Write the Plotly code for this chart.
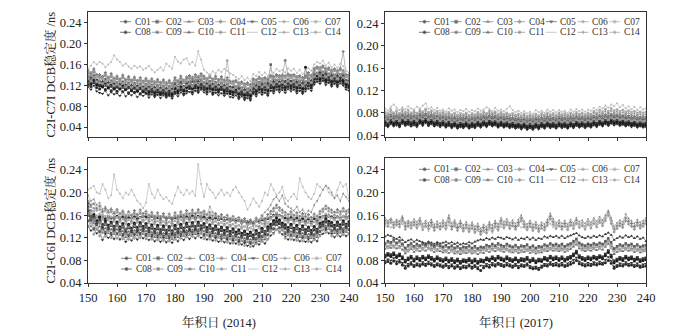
import plotly.graph_objects as go

days = list(range(150, 241))
sats = ["C01", "C02", "C03", "C04", "C05", "C06", "C07", "C08", "C09", "C10", "C11", "C12", "C13", "C14"]
ytick_vals = [0.04, 0.08, 0.12, 0.16, 0.20, 0.24]
ytick_text = ["0.04", "0.08", "0.12", "0.16", "0.20", "0.24"]
xtick_vals = [150, 160, 170, 180, 190, 200, 210, 220, 230, 240]
x_titles = ["年积日 (2014)", "年积日 (2017)"]
y_titles = ["C2I-C7I DCB稳定度 /ns", "C2I-C6I DCB稳定度 /ns"]

# ---- Panel A: C2I-C7I DCB stability, 2014 (unit: 0.001 ns) ----
a01 = [122,118,127,116,113,117,112,115,110,113, 109,114,108,112,106,111,107,110,104,109, 106,103,108,101,107,102,105,100,104,99, 108,105,112,104,110,114,107,115,110,116, 112,108,114,106,111,107,112,105,109,104, 102,107,98,103,96,101,95,108,104,112, 107,111,104,115,110,117,112,116,111,118, 114,117,110,115,108,114,119,115,126,132, 128,134,126,130,122,128,121,129,124,117, 115]
a02 = [131,126,134,124,122,121,127,119,124,116, 120,117,122,115,120,113,119,112,118,111, 117,111,116,109,115,108,113,109,112,107, 117,112,121,113,119,121,116,123,118,125, 120,116,123,115,121,114,120,113,118,111, 110,114,106,111,104,109,103,117,112,120, 115,120,113,124,118,126,121,125,119,127, 122,126,118,124,116,122,128,123,135,141, 136,143,133,139,130,137,129,138,132,125, 122]
a03 = [133,140,131,138,127,134,125,132,124,131, 122,129,121,128,120,127,119,126,118,124, 117,124,116,123,115,122,114,121,113,120, 127,122,131,124,129,124,133,126,134,127, 122,130,123,129,121,128,120,127,119,124, 122,114,121,112,118,110,116,119,127,121, 129,122,130,125,134,127,133,128,135,129, 134,127,133,126,131,124,129,136,141,139, 151,140,149,138,146,136,145,137,144,136, 130]
a04 = [144,140,146,138,136,134,139,132,137,130, 133,129,135,128,132,127,131,126,130,125, 129,124,128,123,127,122,126,121,125,120, 130,126,133,127,131,134,129,136,132,138, 133,130,135,129,133,128,132,127,130,125, 123,127,120,124,118,122,117,130,126,133, 128,132,127,136,132,138,134,137,168,139, 135,138,132,136,130,135,140,136,148,153, 149,155,147,151,144,149,143,150,146,138, 136]
a05 = [117,112,120,109,106,104,110,101,107,103, 105,100,108,99,104,101,106,98,103,100, 104,97,103,98,102,96,101,97,100,95, 104,99,107,101,105,108,103,110,106,112, 107,103,109,102,106,101,105,100,104,98, 97,101,94,99,92,96,91,104,99,107, 102,106,100,110,105,112,107,111,106,113, 109,112,105,110,104,109,114,110,122,127, 123,129,121,125,118,123,117,124,120,112, 110]
a06 = [147,141,149,140,139,135,142,133,140,132, 136,130,138,129,135,128,134,127,133,126, 132,125,131,124,130,123,129,122,128,121, 133,127,136,128,134,137,131,139,134,141, 136,131,138,130,136,129,135,128,168,126, 126,128,123,125,121,123,120,131,129,134, 131,133,130,137,135,139,137,138,136,140, 138,139,135,137,133,136,143,137,151,154, 152,156,150,152,147,150,146,151,149,139, 139]
a07 = [136,143,132,139,128,136,126,134,125,132, 124,131,122,130,121,129,120,128,119,126, 118,127,117,126,116,125,115,124,114,123, 129,124,132,126,131,125,135,128,136,129, 124,132,125,131,123,130,122,129,121,126, 124,116,123,114,120,112,118,121,129,123, 131,124,132,127,136,129,135,130,137,131, 136,129,135,128,133,126,131,138,143,141, 153,142,151,140,148,138,147,139,146,138, 131]
a08 = [128,123,131,121,119,118,124,116,121,114, 117,113,120,112,117,110,116,109,115,108, 114,108,113,106,112,105,111,104,110,103, 114,109,118,110,116,118,113,120,115,122, 117,113,120,112,118,111,117,110,115,108, 107,111,103,108,101,106,100,114,109,117, 112,117,110,121,115,123,118,122,116,124, 119,123,115,121,113,155,125,120,132,138, 133,140,130,136,127,134,126,135,129,122, 119]
a09 = [136,131,139,130,127,125,132,123,129,121, 126,120,127,119,125,118,124,117,123,116, 122,115,121,114,120,113,119,112,118,111, 123,117,126,118,124,127,120,129,123,131, 126,121,128,120,126,119,125,118,123,116, 116,118,113,115,111,113,110,123,117,126, 121,123,120,160,125,129,127,128,126,130, 128,129,125,127,123,126,133,127,141,144, 142,146,140,142,137,140,136,141,139,129, 129]
a10 = [128,135,124,131,121,128,119,126,117,124, 116,123,115,122,114,121,113,120,112,118, 111,118,110,117,109,116,108,115,107,114, 121,116,124,118,123,117,127,120,128,121, 116,124,117,123,115,122,114,121,113,118, 116,108,115,106,112,104,110,113,121,115, 123,116,124,119,128,121,127,122,129,123, 128,121,127,120,125,118,123,130,135,133, 145,134,143,132,140,130,139,131,138,130, 123]
a11 = [150,143,152,141,141,137,145,135,143,134, 138,132,140,131,137,130,136,129,135,128, 134,127,133,126,132,125,131,124,130,123, 135,129,138,130,136,139,133,141,136,143, 138,133,140,132,138,131,137,130,135,128, 128,130,125,127,123,125,122,133,131,136, 133,135,132,139,137,141,139,140,138,142, 140,141,137,139,135,138,145,139,153,156, 154,158,152,154,149,152,148,153,185,141, 141]
a12 = [152,158,165,160,165,162,155,160,165,178, 170,165,158,162,156,152,158,154,157,150, 153,158,150,145,150,155,148,162,157,152, 175,166,162,170,172,160,165,158,186,170, 150,145,140,147,143,150,146,152,148,143, 140,136,132,138,130,135,128,142,138,146, 140,145,138,150,144,152,147,150,145,153, 148,152,144,150,142,148,153,148,160,165, 162,168,158,164,155,160,154,162,157,148, 145]
a13 = [138,146,134,141,130,138,128,136,127,134, 126,133,124,132,123,131,122,130,121,128, 120,129,119,128,118,127,117,126,116,125, 131,126,134,128,133,127,137,130,138,131, 126,134,127,133,125,132,124,131,123,128, 126,118,125,116,122,114,120,123,131,125, 133,126,134,129,138,131,137,132,139,133, 138,131,137,130,135,128,133,140,145,143, 155,144,153,142,150,140,149,141,148,140, 133]
a14 = [133,128,136,127,125,123,128,121,125,119, 122,118,124,117,121,116,120,115,119,114, 118,113,117,112,116,111,115,110,114,109, 119,115,122,116,120,123,118,125,121,127, 122,119,124,118,122,117,121,116,119,114, 112,116,109,113,107,111,106,119,115,122, 117,121,116,125,121,127,123,126,122,128, 124,127,121,125,119,124,129,125,137,142, 138,144,136,140,133,138,132,139,135,127, 125]

# ---- Panel B: C2I-C7I DCB stability, 2017 (unit: 0.001 ns) ----
b01 = [60,57,62,58,61,56,63,59,62,57, 61,58,63,60,64,58,62,58,61,57, 60,56,59,55,58,54,57,55,58,54, 57,55,59,56,60,57,61,58,60,56, 59,56,58,55,57,54,56,53,56,52, 55,52,56,53,57,54,58,55,57,54, 58,55,57,54,58,55,59,56,58,55, 58,56,60,57,61,58,62,59,63,60, 62,59,61,58,60,57,59,56,58,56, 57]
b02 = [64,61,66,62,65,61,67,63,66,62, 65,61,67,64,68,63,66,62,65,61, 64,60,63,59,62,58,61,59,62,58, 61,59,63,60,64,61,65,62,64,60, 63,60,62,59,61,58,60,57,60,56, 59,56,60,57,61,58,62,59,61,58, 62,59,61,58,62,59,63,60,62,59, 62,60,64,61,65,62,66,63,67,64, 66,63,65,62,64,61,63,60,62,60, 61]
b03 = [65,69,66,70,65,71,67,71,66,70, 66,71,68,72,67,71,66,70,65,69, 64,68,62,66,61,65,62,66,61,64, 63,67,64,68,65,69,66,68,64,67, 63,66,62,65,61,64,60,63,59,62, 60,64,61,65,62,66,63,65,62,65, 63,66,62,66,63,67,64,66,63,66, 64,68,65,69,66,70,67,71,68,70, 67,69,66,68,65,67,64,66,63,65, 64]
b04 = [68,73,70,74,69,75,71,75,70,74, 69,75,72,76,71,75,70,74,69,73, 68,72,67,71,66,70,67,70,66,69, 67,71,68,72,69,73,70,72,68,71, 68,71,67,70,66,69,65,68,64,67, 64,68,65,69,66,70,67,69,66,69, 67,70,66,70,67,71,68,70,67,70, 68,72,69,73,70,74,71,75,72,74, 71,73,70,72,69,71,68,70,67,69, 68]
b05 = [57,55,60,56,58,55,61,57,59,56, 58,55,61,57,62,57,60,56,58,55, 58,54,57,53,56,52,55,53,56,52, 55,53,57,54,58,55,59,56,58,54, 57,54,56,53,55,52,54,51,54,50, 53,50,54,51,55,52,56,53,55,52, 56,53,55,52,56,53,57,54,56,53, 56,54,58,55,59,56,60,57,61,58, 60,57,59,56,58,55,57,54,56,54, 55]
b06 = [73,79,75,80,74,79,76,81,75,79, 74,80,77,81,76,80,75,79,74,78, 73,77,72,76,71,75,72,76,71,75, 72,76,73,77,74,78,75,77,73,76, 72,76,71,75,70,74,69,73,68,72, 69,73,70,74,71,75,72,74,71,74, 72,75,71,75,72,76,73,75,72,75, 73,77,74,78,75,79,76,80,77,79, 76,78,75,77,74,76,73,75,72,74, 73]
b07 = [82,78,86,80,84,79,86,81,85,80, 83,79,85,82,87,81,84,80,83,79, 82,78,81,77,80,76,79,77,80,76, 79,77,81,78,82,79,83,80,82,78, 81,78,80,77,79,76,78,75,78,74, 77,74,78,75,79,76,80,77,79,76, 80,77,79,76,80,77,81,78,80,77, 80,78,83,80,85,82,87,83,88,84, 86,83,85,82,84,81,83,80,82,80, 81]
b08 = [63,58,64,60,63,59,65,61,64,60, 63,59,65,62,66,61,64,60,63,59, 62,58,61,57,60,56,59,57,60,56, 59,57,61,58,62,59,63,60,62,58, 61,58,60,57,59,56,58,55,58,54, 57,54,58,55,59,56,60,57,59,56, 60,57,59,56,60,57,61,58,60,57, 60,58,62,59,63,60,64,61,65,62, 64,61,63,60,62,59,61,58,60,58, 59]
b09 = [71,67,73,69,72,68,74,70,73,69, 72,68,74,71,75,70,73,69,72,68, 71,67,70,66,69,65,68,66,69,65, 68,66,70,67,71,68,72,69,71,67, 70,67,69,66,68,65,67,64,67,63, 66,63,67,64,68,65,69,66,68,65, 69,66,68,65,69,66,70,67,69,66, 69,67,71,68,72,69,73,70,74,71, 73,70,72,69,71,68,70,67,69,67, 68]
b10 = [66,63,68,64,67,63,69,65,68,64, 67,63,69,66,70,65,68,64,67,63, 66,62,65,61,64,60,63,61,64,60, 63,61,65,62,66,63,67,64,66,62, 65,62,64,61,63,60,62,59,62,58, 61,58,62,59,63,60,64,61,63,60, 64,61,63,60,64,61,65,62,64,61, 64,62,66,63,67,64,68,65,69,66, 68,65,67,64,66,63,65,62,64,62, 63]
b11 = [75,71,77,73,76,72,78,74,77,73, 76,72,78,75,79,74,77,73,76,72, 75,71,74,70,73,69,72,70,73,69, 72,70,74,71,75,72,76,73,75,71, 74,71,73,70,72,69,71,68,71,67, 70,67,71,68,72,69,73,70,72,69, 73,70,72,69,73,70,74,71,73,70, 73,71,75,72,76,73,77,74,78,75, 77,74,76,73,75,72,74,71,73,71, 72]
b12 = [88,84,91,95,89,85,90,86,92,88, 86,91,88,93,97,87,90,85,89,84, 86,82,88,84,86,81,85,83,87,82, 85,83,88,84,86,90,87,83,89,84, 86,83,87,92,85,81,84,80,83,79, 82,78,85,81,84,80,86,82,85,81, 85,82,84,80,86,82,87,83,86,82, 86,84,89,85,91,88,93,89,95,92, 97,90,94,88,92,86,91,85,90,86, 88]
b13 = [79,75,82,77,80,76,83,78,81,77, 80,76,82,79,84,78,81,77,80,76, 79,75,78,74,77,73,76,74,77,73, 76,74,78,75,79,76,80,77,79,75, 78,75,77,74,76,73,75,72,75,71, 74,71,75,72,76,73,77,74,76,73, 77,74,76,73,77,74,78,75,77,74, 77,75,80,77,81,78,83,79,84,80, 82,79,81,78,80,77,79,76,78,76, 77]
b14 = [69,65,71,67,70,66,72,68,71,67, 70,66,72,69,73,68,71,67,70,66, 69,65,68,64,67,63,66,64,67,63, 66,64,68,65,69,66,70,67,69,65, 68,65,67,64,66,63,65,62,65,61, 64,61,65,62,66,63,67,64,66,63, 67,64,66,63,67,64,68,65,67,64, 67,65,69,66,70,67,71,68,72,69, 71,68,70,67,69,66,68,65,67,65, 66]

# ---- Panel C: C2I-C6I DCB stability, 2014 (unit: 0.001 ns) ----
c01 = [160,158,156,157,155,156,154,157,155,156, 158,155,157,154,156,155,157,154,156,158, 157,155,158,154,156,153,157,154,156,153, 156,154,158,155,157,156,159,155,158,156, 157,154,156,153,155,152,154,151,153,150, 152,149,151,147,149,146,148,145,150,148, 152,150,154,156,160,163,160,157,155,153, 156,152,155,151,154,150,153,149,154,151, 156,158,160,158,157,155,157,154,158,156, 157]
c02 = [180,152,155,143,149,136,144,135,142,133, 142,132,139,128,138,130,140,131,141,133, 139,130,137,128,136,127,135,126,134,125, 136,128,138,130,140,132,141,133,142,134, 139,131,137,129,135,127,133,126,132,124, 130,123,128,121,126,119,124,118,127,121, 131,124,133,137,144,148,145,139,137,131, 138,130,136,128,135,127,133,126,134,128, 139,141,148,142,141,135,142,136,144,137, 142]
c03 = [150,140,146,134,140,129,137,128,135,126, 135,125,132,121,131,123,133,124,134,126, 132,123,130,121,129,120,128,119,127,118, 129,121,131,123,133,125,134,126,135,127, 132,124,130,122,128,120,126,119,125,117, 123,116,121,114,119,112,117,111,120,114, 124,117,126,131,137,142,138,133,130,124, 131,123,129,121,128,120,126,119,127,121, 132,134,141,135,134,128,135,129,137,130, 135]
c04 = [162,168,150,158,146,156,145,154,143,152, 142,151,141,150,140,149,142,150,143,151, 141,149,140,148,139,147,138,146,137,145, 140,148,142,150,144,152,145,153,146,154, 141,149,140,147,138,145,137,144,135,142, 133,140,131,138,129,136,127,134,132,140, 136,145,140,155,150,158,152,157,142,150, 140,149,138,147,137,146,136,145,139,148, 146,157,152,160,146,154,147,155,148,157, 149]
c05 = [140,133,135,128,131,116,127,120,125,118, 128,117,124,113,123,115,125,117,126,119, 124,116,122,114,121,113,120,112,119,111, 121,114,123,116,125,118,126,119,127,120, 124,117,122,115,120,113,118,112,117,110, 115,110,113,108,111,106,110,105,112,108, 116,110,118,124,129,135,131,126,122,117, 124,116,121,114,120,113,118,112,119,114, 125,127,134,128,127,121,128,122,130,123, 128]
c06 = [178,175,172,168,170,160,168,158,166,157, 165,156,163,152,160,155,162,157,163,158, 162,154,160,152,159,151,158,150,157,149, 159,153,161,155,163,157,164,158,165,159, 162,155,160,154,158,152,156,150,155,149, 153,148,151,146,149,144,147,143,150,146, 154,149,156,162,167,173,168,164,160,156, 161,155,159,153,158,152,156,151,157,153, 162,166,171,167,164,160,165,161,167,162, 165]
c07 = [172,163,167,158,162,152,158,151,157,149, 156,148,153,144,152,146,154,147,155,149, 153,146,151,144,150,143,149,142,148,141, 150,144,152,146,154,148,155,149,156,150, 153,147,151,145,149,143,147,142,146,140, 144,139,142,137,140,135,138,134,141,137, 145,140,147,153,158,164,159,155,151,147, 152,146,150,144,149,143,147,142,148,144, 153,157,162,158,155,151,156,152,158,153, 156]
c08 = [168,156,161,150,157,143,150,142,148,140, 148,139,145,135,144,137,146,138,147,140, 145,137,143,135,142,134,141,133,140,132, 142,135,144,137,146,139,147,140,148,141, 145,138,143,136,141,134,139,133,138,131, 136,130,134,128,132,126,130,125,133,128, 137,131,139,144,150,155,151,146,143,138, 144,137,142,135,141,134,139,133,140,135, 145,148,154,149,147,142,148,143,150,144, 148]
c09 = [150,156,136,145,131,141,130,139,128,137, 127,136,126,135,125,134,127,135,128,136, 126,134,125,133,124,132,123,131,122,130, 125,133,127,135,129,137,130,138,131,139, 126,134,125,132,123,130,122,129,120,127, 118,125,116,123,114,121,112,119,117,125, 121,130,125,140,135,143,137,142,127,135, 125,134,123,132,122,131,121,130,124,133, 131,142,137,145,131,139,132,140,133,142, 134]
c10 = [175,150,158,146,152,139,147,138,146,136, 146,135,143,131,142,133,144,134,145,136, 143,133,141,131,140,130,139,129,138,128, 140,131,142,133,144,135,145,136,146,137, 143,134,141,132,139,130,137,129,136,127, 134,126,132,124,130,122,128,121,131,124, 135,127,137,140,148,151,149,142,141,134, 142,133,140,131,139,130,137,129,138,131, 143,144,152,145,145,138,146,139,148,140, 146]
c11 = [185,178,180,172,176,166,172,165,170,163, 170,162,167,158,166,160,168,161,169,163, 167,160,165,158,164,157,163,156,162,155, 164,158,166,160,168,162,169,163,170,164, 167,161,165,159,163,157,161,156,160,154, 158,153,156,151,154,149,152,148,155,151, 159,154,161,167,172,178,173,169,165,161, 166,160,164,158,163,157,161,156,162,158, 167,171,176,172,169,165,170,166,172,167, 170]
c12 = [205,208,212,200,198,215,205,190,195,232, 205,198,190,200,196,205,195,185,180,172, 182,215,198,190,205,195,188,192,185,180, 195,210,200,195,205,198,202,194,250,215, 192,215,205,200,190,198,205,195,200,194, 205,210,200,192,185,170,178,190,182,175, 185,200,195,215,205,195,200,210,190,185, 192,198,188,225,210,200,192,188,198,215, 210,205,212,200,195,190,205,218,210,215, 190]
c13 = [195,185,188,178,182,170,175,168,172,165, 170,163,168,160,166,160,165,158,164,157, 162,156,160,154,158,152,157,151,155,150, 158,152,160,155,162,156,163,157,165,158, 168,160,175,165,160,155,158,150,155,148, 152,146,150,143,148,140,145,140,148,152, 160,165,170,178,188,192,185,195,180,175, 172,168,175,165,170,162,168,165,178,185, 195,205,212,208,200,190,195,185,198,192, 185]
c14 = [141,147,126,136,123,133,122,131,120,129, 119,128,118,127,117,126,119,127,120,128, 118,126,117,125,116,124,115,123,114,122, 117,125,119,127,121,129,122,130,123,131, 118,126,117,124,115,122,114,121,112,119, 110,117,108,115,106,113,104,111,109,117, 113,122,117,132,127,135,129,134,119,127, 117,126,115,124,114,123,113,122,116,125, 123,134,129,137,123,131,124,132,125,134, 126]

# ---- Panel D: C2I-C6I DCB stability, 2017 (unit: 0.001 ns) ----
d01 = [76,78,75,79,74,77,72,66,70,73, 69,72,70,73,71,74,72,69,72,70, 68,71,67,70,66,69,65,68,67,70, 66,69,65,62,67,70,68,72,70,73, 71,69,72,70,68,71,67,70,69,72, 67,65,66,64,68,71,70,73,71,72, 70,72,69,71,73,76,80,74,72,70, 72,71,73,72,74,73,76,80,75,66, 69,71,70,73,71,72,69,71,68,69, 70]
d02 = [89,92,90,93,88,91,86,80,84,87, 82,86,83,87,84,88,85,82,86,83, 81,84,80,83,79,82,78,81,80,83, 79,82,78,81,80,84,82,86,83,87, 84,82,86,83,81,84,80,83,82,85, 80,83,79,82,81,85,83,87,84,86, 83,86,82,85,87,91,96,88,85,83, 86,84,87,85,88,86,91,97,89,79, 82,85,83,87,84,86,82,85,81,83, 84]
d03 = [100,104,102,106,101,105,99,92,97,100, 95,99,96,100,97,101,98,95,99,96, 94,97,93,96,92,95,91,94,93,96, 92,95,91,94,93,97,95,99,96,100, 97,95,99,96,94,97,93,96,95,98, 93,96,92,95,94,98,96,100,97,99, 96,99,95,98,100,104,108,101,98,96, 99,97,100,98,101,99,104,109,102,91, 95,98,96,100,97,99,95,98,94,96, 97]
d04 = [107,104,109,105,110,104,108,99,98,106, 103,100,105,101,106,102,100,103,99,104, 100,97,102,98,99,95,98,96,100,97, 99,96,100,97,101,99,103,100,104,101, 99,102,100,97,101,98,100,97,102,99, 100,97,99,96,101,99,103,101,104,100, 103,100,102,99,107,110,114,107,100,103, 101,104,102,106,103,107,110,115,104,98, 102,99,104,101,104,100,102,99,101,98, 100]
d05 = [79,82,80,84,78,81,76,70,74,77, 72,75,73,77,74,78,75,72,75,73, 71,74,70,73,69,72,68,71,70,73, 69,72,68,71,70,74,72,76,73,76, 74,72,76,73,71,74,70,73,72,75, 70,68,69,67,71,74,73,77,74,76, 73,76,72,75,77,81,85,78,75,73, 76,74,77,75,78,76,81,86,79,69, 72,75,73,77,74,76,72,75,71,73, 74]
d06 = [107,111,109,113,108,112,106,99,104,107, 102,106,103,107,104,108,105,102,106,103, 101,104,100,103,99,102,98,101,100,103, 99,102,98,101,100,104,102,106,103,107, 104,102,106,103,101,104,100,103,102,105, 100,103,99,102,101,105,103,107,104,106, 103,106,102,105,107,111,115,108,105,103, 106,104,107,105,108,106,111,116,109,98, 102,105,103,107,104,106,102,105,101,103, 104]
d07 = [105,102,107,103,108,102,106,97,96,104, 101,98,103,99,104,100,98,101,97,102, 98,95,100,96,97,93,96,94,98,95, 97,94,98,95,99,97,101,98,102,99, 97,100,98,95,99,96,98,95,100,97, 98,95,97,94,99,97,101,99,102,98, 101,98,100,97,105,108,112,105,98,101, 99,102,100,104,101,105,108,113,102,96, 100,97,102,99,102,98,100,97,99,96, 98]
d08 = [86,89,87,90,85,88,83,77,81,84, 79,83,80,84,81,85,82,79,83,80, 78,81,77,80,76,79,75,78,77,80, 76,79,75,78,77,81,79,83,80,84, 81,79,83,80,78,81,77,80,79,82, 77,80,76,79,78,82,80,84,81,83, 80,83,79,82,84,88,93,85,82,80, 83,81,84,82,85,83,88,94,86,76, 79,82,80,84,81,83,79,82,78,80, 81]
d09 = [110,114,112,116,111,115,109,102,107,110, 105,109,106,110,107,111,108,105,109,106, 104,107,103,106,102,105,101,104,103,106, 102,105,101,104,103,107,105,109,106,110, 107,105,109,106,104,107,103,106,105,108, 103,106,102,105,104,108,106,110,107,109, 106,109,105,108,110,114,118,111,108,106, 109,107,110,108,111,109,114,119,112,101, 105,108,106,110,107,109,105,108,104,106, 107]
d10 = [122,125,123,120,118,121,116,112,115,117, 113,116,114,112,110,113,111,109,112,110, 111,113,110,112,109,111,108,110,109,112, 110,113,115,117,116,119,117,120,118,121, 120,118,121,119,117,120,116,119,118,121, 117,120,116,119,118,122,120,123,121,123, 120,123,119,122,124,126,128,124,121,119, 122,120,123,121,124,122,126,129,125,116, 119,122,120,124,121,123,119,122,118,120, 114]
d11 = [150,146,152,143,148,144,155,140,146,142, 148,143,150,139,145,141,147,138,144,140, 146,141,155,140,146,138,145,137,143,136, 142,135,140,131,138,134,143,137,145,139, 150,143,148,141,146,140,147,155,144,139, 145,138,143,136,142,139,147,158,148,141, 146,140,145,139,147,141,150,143,146,140, 148,142,150,144,152,146,155,165,150,135, 141,146,143,155,149,145,140,147,142,145, 150]
d12 = [140,143,138,146,141,150,144,148,139,145, 141,136,143,138,144,132,140,135,141,137, 139,134,142,136,140,133,139,131,137,130, 136,128,133,125,130,127,134,129,138,132, 140,136,145,138,141,134,143,138,140,135, 139,132,137,131,136,133,141,145,138,142, 140,136,142,137,145,140,148,142,145,139, 147,141,150,144,153,147,156,162,148,130, 137,142,139,150,144,140,136,143,139,141, 145]
d13 = [155,150,154,147,152,149,158,145,150,147, 153,148,155,144,150,146,152,143,149,145, 151,146,160,145,151,143,150,142,148,141, 147,140,145,136,143,139,148,142,150,144, 155,148,153,146,151,145,152,160,149,144, 150,143,148,141,147,144,152,163,153,146, 151,145,150,144,152,146,155,148,151,145, 153,147,155,149,157,151,160,168,155,140, 146,151,148,162,154,150,145,152,147,150, 155]
d14 = [145,140,147,138,143,139,150,135,141,137, 143,138,145,134,140,136,142,133,139,135, 141,136,148,135,141,133,140,132,138,131, 137,130,135,126,133,129,138,132,140,134, 145,138,143,136,141,135,142,150,139,134, 140,133,138,131,137,134,142,153,143,136, 141,135,140,134,142,136,145,138,141,135, 143,137,145,139,147,141,150,160,145,130, 136,141,138,150,144,140,135,142,137,140, 145]

panel_a = [a01, a02, a03, a04, a05, a06, a07, a08, a09, a10, a11, a12, a13, a14]
panel_b = [b01, b02, b03, b04, b05, b06, b07, b08, b09, b10, b11, b12, b13, b14]
panel_c = [c01, c02, c03, c04, c05, c06, c07, c08, c09, c10, c11, c12, c13, c14]
panel_d = [d01, d02, d03, d04, d05, d06, d07, d08, d09, d10, d11, d12, d13, d14]

for grp in (panel_a, panel_b, panel_c, panel_d):
    for s in grp:
        assert len(s) == len(days), len(s)

# ---- styling ----
line_colors = ["#6a6a6a", "#7a7a7a", "#8c8c8c", "#9c9c9c", "#6a6a6a", "#a8a8a8", "#b4b4b4",
               "#5c5c5c", "#8a8a8a", "#7a7a7a", "#9a9a9a", "#bcbcbc", "#a0a0a0", "#acacac"]
marker_colors = ["#2a2a2a", "#3a3a3a", "#6a6a6a", "#8a8a8a", "#2e2e2e", "#9a9a9a", "#aaaaaa",
                 "#1c1c1c", "#5a5a5a", "#3a3a3a", "#7a7a7a", "#bcbcbc", "#8a8a8a", "#9a9a9a"]
symbols = ["circle", "square", "triangle-up", "diamond", "triangle-down", "circle", "square",
           "circle", "square", "triangle-up", "cross", "circle", "triangle-left", "diamond"]
msizes = [3, 3, 3, 3, 3, 2.5, 2.5, 3, 2.5, 3, 2.5, 2, 2.5, 2.5]

W, H = 700, 336
FONT = "Liberation Serif, 'Noto Serif CJK SC', 'Noto Sans CJK SC', serif"

# pixel boxes of the four plots: (left, right, top, bottom)
boxes = [(88, 349, 12, 137), (385, 646, 12, 137), (88, 349, 158, 283), (385, 646, 158, 283)]
yranges = [[0.021, 0.261], [0.037, 0.26], [0.04, 0.261], [0.04, 0.261]]
# legend anchors: (x of first key, y of row 1, y of row 2)
legend_pos = [(120, 21.7, 32.3), (419, 21.7, 32.3), (121, 258.3, 269), (419, 169.3, 180)]
leg_step = 31.7

fig = go.Figure()
panels = [panel_a, panel_b, panel_c, panel_d]
for p, grp in enumerate(panels):
    xa = "x" if p == 0 else f"x{p+1}"
    ya = "y" if p == 0 else f"y{p+1}"
    for i, s in enumerate(grp):
        fig.add_trace(go.Scatter(
            x=days, y=[v / 1000 for v in s], mode="lines+markers", name=sats[i],
            xaxis=xa, yaxis=ya, showlegend=False,
            line=dict(color=line_colors[i], width=0.7),
            marker=dict(symbol=symbols[i], size=msizes[i], color=marker_colors[i]),
        ))

# legend keys drawn on an overlay axis in pixel units
annotations = []
for i in range(14):
    lx, ly, ls = [], [], []
    for p in range(4):
        x0, r1, r2 = legend_pos[p]
        row = 0 if i < 7 else 1
        col = i % 7
        xs = x0 + col * leg_step
        yy = r1 if row == 0 else r2
        lx += [xs, xs + 5.5, xs + 11, None]
        ly += [yy, yy, yy, None]
        ls += [0, msizes[i] if i != 11 else 0, 0, 0]
        annotations.append(dict(x=xs + 12.5, y=yy, xref="x5", yref="y5", text=sats[i],
                                showarrow=False, xanchor="left", yanchor="middle",
                                font=dict(family=FONT, size=9.5, color="#333")))
    fig.add_trace(go.Scatter(x=lx, y=ly, mode="lines+markers", xaxis="x5", yaxis="y5",
                             showlegend=False, hoverinfo="skip",
                             line=dict(color=line_colors[i], width=0.8),
                             marker=dict(symbol=symbols[i], size=ls, color=marker_colors[i])))

# axis titles
for c in range(2):
    l, r, t, b = boxes[c + 2]
    annotations.append(dict(x=(l + r) / 2, y=322, xref="x5", yref="y5", text=x_titles[c],
                            showarrow=False, font=dict(family=FONT, size=12.5, color="#222")))
for rrow in range(2):
    l, r, t, b = boxes[rrow * 2]
    annotations.append(dict(x=50, y=(t + b) / 2, xref="x5", yref="y5", text=y_titles[rrow],
                            textangle=-90, showarrow=False,
                            font=dict(family=FONT, size=12.5, color="#222")))

layout = dict(
    width=W, height=H, margin=dict(l=0, r=0, t=0, b=0),
    paper_bgcolor="white", plot_bgcolor="rgba(0,0,0,0)", template="none",
    showlegend=False, annotations=annotations,
    font=dict(family=FONT, size=12, color="#222"),
)
for p in range(4):
    l, r, t, b = boxes[p]
    xk = "xaxis" if p == 0 else f"xaxis{p+1}"
    yk = "yaxis" if p == 0 else f"yaxis{p+1}"
    yid = "y" if p == 0 else f"y{p+1}"
    xid = "x" if p == 0 else f"x{p+1}"
    layout[xk] = dict(domain=[l / W, r / W], anchor=yid, range=[150, 240],
                      tickvals=xtick_vals, showticklabels=(p >= 2),
                      ticks="outside", ticklen=3, tickcolor="#333", tickwidth=1,
                      showline=True, linecolor="#333", linewidth=1, mirror=True,
                      showgrid=False, zeroline=False, automargin=False,
                      tickfont=dict(family=FONT, size=12.5, color="#222"))
    layout[yk] = dict(domain=[1 - b / H, 1 - t / H], anchor=xid, range=yranges[p],
                      tickvals=ytick_vals, ticktext=ytick_text,
                      ticks="outside", ticklen=3, tickcolor="#333", tickwidth=1,
                      showline=True, linecolor="#333", linewidth=1, mirror=True,
                      showgrid=False, zeroline=False, automargin=False,
                      tickfont=dict(family=FONT, size=12.5, color="#222"))
layout["xaxis5"] = dict(domain=[0, 1], anchor="y5", range=[0, W], visible=False, fixedrange=True)
layout["yaxis5"] = dict(domain=[0, 1], anchor="x5", range=[H, 0], visible=False, fixedrange=True)

fig.update_layout(**layout)
fig.write_html("out.html", config={"displayModeBar": False},
               post_script="document.body.style.margin='0';document.body.style.padding='0';")
